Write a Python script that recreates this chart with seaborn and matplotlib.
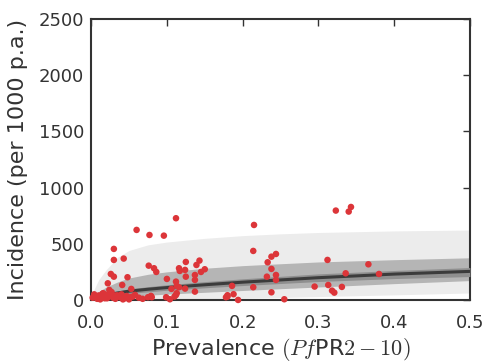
import numpy as np
import pandas as pd
import seaborn as sns
import matplotlib.pyplot as plt

# =============================================================================
# Data
# =============================================================================

# model curve: median and credible bands on a prevalence grid
grid_pr = [0.0, 0.005, 0.01, 0.02, 0.035, 0.05, 0.075, 0.1, 0.15, 0.2, 0.25, 0.3, 0.4, 0.5]
median = [0, 15, 28, 45, 62, 78, 95, 110, 135, 158, 178, 198, 230, 254]
band50_lo = [0, 8, 18, 32, 46, 58, 72, 86, 108, 128, 146, 164, 190, 208]
band50_hi = [0, 22, 40, 60, 80, 98, 118, 135, 163, 188, 210, 232, 262, 288]
band80_lo = [0, 2, 6, 14, 24, 32, 42, 52, 68, 84, 100, 115, 145, 172]
band80_hi = [10, 45, 75, 115, 160, 195, 228, 250, 282, 305, 322, 338, 358, 375]
band95_lo = [0, 0, 0, 0, 1, 2, 4, 6, 10, 16, 22, 30, 45, 62]
band95_hi = [40, 110, 180, 270, 380, 440, 490, 515, 548, 572, 588, 600, 614, 622]

# observed surveys
obs_pr = [
    0.060, 0.077, 0.030, 0.030, 0.043, 0.026, 0.030, 0.048, 0.076, 0.083,
    0.022, 0.041, 0.053, 0.024, 0.075, 0.079, 0.112, 0.096, 0.125, 0.143,
    0.086, 0.116, 0.117, 0.124, 0.139, 0.150, 0.145, 0.125, 0.137, 0.137,
    0.100, 0.112, 0.113, 0.116, 0.106, 0.124, 0.137, 0.112, 0.099, 0.104,
    0.080, 0.178, 0.180, 0.215, 0.214, 0.238, 0.244, 0.233, 0.238, 0.244,
    0.244, 0.232, 0.214, 0.186, 0.238, 0.188, 0.180, 0.194, 0.255, 0.323,
    0.343, 0.340, 0.312, 0.366, 0.336, 0.380, 0.295, 0.313, 0.331, 0.318,
    0.321, 0.113, 0.110,
    # dense cluster near the origin
    0.002, 0.005, 0.008, 0.010, 0.013, 0.015, 0.018, 0.020, 0.023, 0.026,
    0.029, 0.032, 0.035, 0.038, 0.040, 0.044, 0.047, 0.050, 0.055, 0.058,
    0.063, 0.068, 0.004, 0.012, 0.021, 0.033, 0.042, 0.052, 0.016, 0.027,
]
obs_inc = [
    623, 578, 454, 356, 368, 231, 207, 202, 305, 282,
    148, 133, 98, 89, 24, 36, 727, 572, 338, 350,
    249, 282, 258, 267, 311, 273, 249, 207, 222, 178,
    187, 163, 125, 113, 98, 101, 74, 44, 24, 6,
    24, 24, 42, 667, 436, 385, 409, 335, 276, 222,
    178, 207, 113, 125, 68, 51, 30, 0, 6, 795,
    827, 786, 356, 317, 237, 231, 119, 133, 116, 83,
    65, 60, 30,
    20, 35, 10, 40, 25, 55, 15, 45, 30, 60,
    20, 10, 40, 25, 50, 15, 35, 5, 30, 45,
    20, 10, 50, 5, 15, 40, 5, 25, 60, 70,
]

x_ticks = [0.0, 0.1, 0.2, 0.3, 0.4, 0.5]
y_ticks = [0, 500, 1000, 1500, 2000, 2500]

curve = pd.DataFrame({"pr": grid_pr, "median": median})
obs = pd.DataFrame({"pr": obs_pr, "inc": obs_inc})

# =============================================================================
# Plot
# =============================================================================

sns.set_style("white")
plt.rcParams["font.family"] = ["DejaVu Sans"]
plt.rcParams["mathtext.fontset"] = "cm"

fig = plt.figure(figsize=(4.9, 3.64), dpi=100)
ax = fig.add_axes([0.186, 0.176, 0.773, 0.772])

ax.fill_between(grid_pr, band95_lo, band95_hi, color="#ececec", lw=0, zorder=1)
ax.fill_between(grid_pr, band80_lo, band80_hi, color="#b5b5b5", lw=0, zorder=2)
ax.fill_between(grid_pr, band50_lo, band50_hi, color="#8f8f8f", lw=0, zorder=3)

sns.lineplot(data=curve, x="pr", y="median", color="#3c3c3c", lw=2.2, ax=ax, zorder=4)

sns.scatterplot(
    data=obs,
    x="pr",
    y="inc",
    color="#dc3539",
    s=22,
    edgecolor="none",
    clip_on=False,
    ax=ax,
    zorder=5,
)

ax.set_xlim(0, 0.5)
ax.set_ylim(0, 2500)
ax.set_xticks(x_ticks)
ax.set_yticks(y_ticks)
ax.set_xticklabels([f"{t:.1f}" for t in x_ticks])

ax.set_xlabel(r"Prevalence $(Pf$PR$2-10)$", fontsize=16, color="#333333", labelpad=3)
ax.set_ylabel("Incidence (per 1000 p.a.)", fontsize=16, color="#333333", labelpad=8)

ax.tick_params(direction="in", length=5, width=1, colors="#333333",
               labelsize=13, top=True, right=True)
ax.tick_params(axis="x", pad=10)
ax.tick_params(axis="y", pad=5)
for side in ax.spines.values():
    side.set_color("#333333")
    side.set_linewidth(1.5)

plt.savefig("out.png", dpi=100)
